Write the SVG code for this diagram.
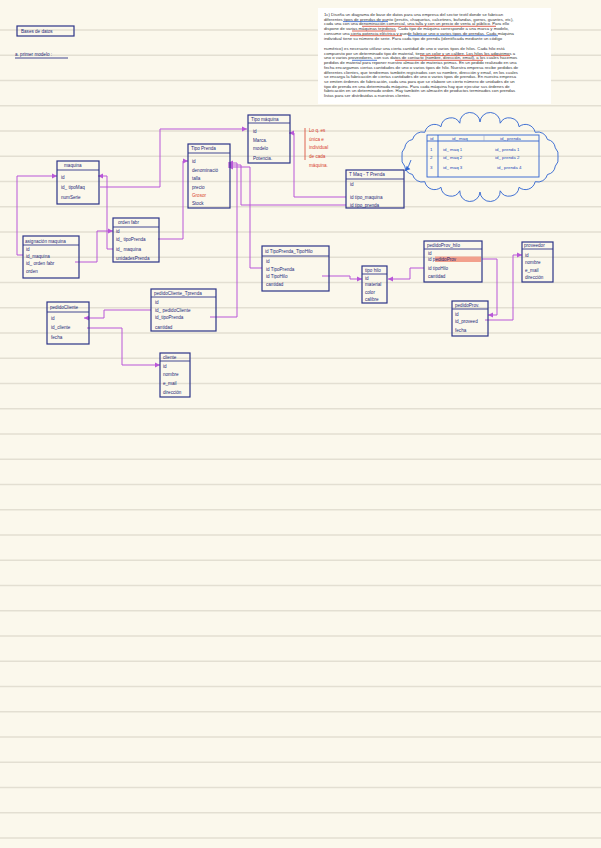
<svg xmlns="http://www.w3.org/2000/svg" width="601" height="848" viewBox="0 0 601 848">
<style>
.bg{fill:#fbf8ec}
.rule{stroke:#e3dfd2;stroke-width:1.6}
.box{fill:none;stroke:#2c3488;stroke-width:1.2}
.div{stroke:#2c3488;stroke-width:0.9}
.t{font-family:"Liberation Sans",Arial,sans-serif;font-size:4.6px;fill:#1f2a7a}
.h{font-family:"Liberation Sans",Arial,sans-serif;font-size:4.6px;fill:#1f2a7a}
.red{fill:#d8402c}
.p{font-family:"Liberation Sans",Arial,sans-serif;font-size:4.25px;fill:#333}
.c{fill:none;stroke:#b957d8;stroke-width:1}
.bl{fill:none;stroke:#2f63d0;stroke-width:0.9}
.bt{font-family:"Liberation Sans",Arial,sans-serif;font-size:4.4px;fill:#1d4bb8}
</style>
<defs>
<marker id="ar" markerWidth="6" markerHeight="6" refX="5" refY="3" orient="auto" markerUnits="userSpaceOnUse">
<path d="M0,0.5 L5,3 L0,5.5 z" fill="#b957d8"/>
</marker>
<marker id="ab" markerWidth="6" markerHeight="6" refX="5" refY="3" orient="auto" markerUnits="userSpaceOnUse">
<path d="M0,0.5 L5,3 L0,5.5 z" fill="#2f63d0"/>
</marker>
</defs>
<rect class="bg" x="0" y="0" width="601" height="848"/>
<g id="rules">
<line class="rule" x1="0" x2="601" y1="30" y2="30"/>
<line class="rule" x1="0" x2="601" y1="55.25" y2="55.25"/>
<line class="rule" x1="0" x2="601" y1="80.5" y2="80.5"/>
<line class="rule" x1="0" x2="601" y1="105.75" y2="105.75"/>
<line class="rule" x1="0" x2="601" y1="131" y2="131"/>
<line class="rule" x1="0" x2="601" y1="156.25" y2="156.25"/>
<line class="rule" x1="0" x2="601" y1="181.5" y2="181.5"/>
<line class="rule" x1="0" x2="601" y1="206.75" y2="206.75"/>
<line class="rule" x1="0" x2="601" y1="232" y2="232"/>
<line class="rule" x1="0" x2="601" y1="257.25" y2="257.25"/>
<line class="rule" x1="0" x2="601" y1="282.5" y2="282.5"/>
<line class="rule" x1="0" x2="601" y1="307.75" y2="307.75"/>
<line class="rule" x1="0" x2="601" y1="333" y2="333"/>
<line class="rule" x1="0" x2="601" y1="358.25" y2="358.25"/>
<line class="rule" x1="0" x2="601" y1="383.5" y2="383.5"/>
<line class="rule" x1="0" x2="601" y1="408.75" y2="408.75"/>
<line class="rule" x1="0" x2="601" y1="434" y2="434"/>
<line class="rule" x1="0" x2="601" y1="459.25" y2="459.25"/>
<line class="rule" x1="0" x2="601" y1="484.5" y2="484.5"/>
<line class="rule" x1="0" x2="601" y1="509.75" y2="509.75"/>
<line class="rule" x1="0" x2="601" y1="535" y2="535"/>
<line class="rule" x1="0" x2="601" y1="560.25" y2="560.25"/>
<line class="rule" x1="0" x2="601" y1="585.5" y2="585.5"/>
<line class="rule" x1="0" x2="601" y1="610.75" y2="610.75"/>
<line class="rule" x1="0" x2="601" y1="636" y2="636"/>
<line class="rule" x1="0" x2="601" y1="661.25" y2="661.25"/>
<line class="rule" x1="0" x2="601" y1="686.5" y2="686.5"/>
<line class="rule" x1="0" x2="601" y1="711.75" y2="711.75"/>
<line class="rule" x1="0" x2="601" y1="737" y2="737"/>
<line class="rule" x1="0" x2="601" y1="762.25" y2="762.25"/>
<line class="rule" x1="0" x2="601" y1="787.5" y2="787.5"/>
<line class="rule" x1="0" x2="601" y1="812.75" y2="812.75"/>
<line class="rule" x1="0" x2="601" y1="838" y2="838"/>
</g>
<g id="statement">
<rect x="318" y="8" width="233" height="96" fill="#ffffff"/>
<text class="p" x="324" y="16">1c) Diseña un diagrama de base de datos para una empresa del sector textil donde se fabrican</text>
<text class="p" x="324" y="20.7">diferentes tipos de prendas de punto (jerséis, chaquetas, calcetines, bufandas, gorros, guantes, etc),</text>
<text class="p" x="324" y="25.4">cada una con una denominación comercial, una talla y con un precio de venta al público. Para ello</text>
<text class="p" x="324" y="30.1">dispone de varias máquinas tejedoras. Cada tipo de máquina corresponde a una marca y modelo,</text>
<text class="p" x="324" y="34.8">consume una cierta potencia eléctrica y puede fabricar uno o varios tipos de prendas. Cada máquina</text>
<text class="p" x="324" y="39.5">individual tiene su número de serie. Para cada tipo de prenda (identificada mediante un código</text>
<text class="p" x="324" y="50">numérico) es necesario utilizar una cierta cantidad de uno o varios tipos de hilos. Cada hilo está</text>
<text class="p" x="324" y="54.7">compuesto por un determinado tipo de material, tiene un color y un calibre. Los hilos los adquirimos a</text>
<text class="p" x="324" y="59.4">uno o varios proveedores, con sus datos de contacto (nombre, dirección, email), a los cuales hacemos</text>
<text class="p" x="324" y="64.1">pedidos de material para reponer nuestro almacén de materias primas. En un pedido realizado en una</text>
<text class="p" x="324" y="68.8">fecha encargamos ciertas cantidades de uno o varios tipos de hilo. Nuestra empresa recibe pedidos de</text>
<text class="p" x="324" y="73.5">diferentes clientes, que tendremos también registrados con su nombre, dirección y email, en los cuales</text>
<text class="p" x="324" y="78.2">se encarga la fabricación de ciertas cantidades de uno o varios tipos de prendas. En nuestra empresa</text>
<text class="p" x="324" y="82.9">se emiten órdenes de fabricación, cada una para que se elabore un cierto número de unidades de un</text>
<text class="p" x="324" y="87.6">tipo de prenda en una determinada máquina. Para cada máquina hay que ejecutar sus órdenes de</text>
<text class="p" x="324" y="92.3">fabricación en un determinado orden. Hay también un almacén de productos terminados con prendas</text>
<text class="p" x="324" y="97">listas para ser distribuidas a nuestros clientes.</text>
<g stroke-width="0.8">
<line x1="343" y1="21.6" x2="388" y2="21.6" stroke="#2f63d0"/>
<line x1="362" y1="26.3" x2="496" y2="26.3" stroke="#d8402c"/>
<line x1="352" y1="31" x2="396" y2="31" stroke="#d8402c"/>
<line x1="350" y1="35.7" x2="402" y2="35.7" stroke="#d8402c"/>
<line x1="408" y1="35.7" x2="498" y2="35.7" stroke="#2f63d0"/>
<line x1="420" y1="55.6" x2="510" y2="55.6" stroke="#d8402c"/>
<line x1="352" y1="60.3" x2="377" y2="60.3" stroke="#2f63d0"/>
<line x1="395" y1="60.3" x2="483" y2="60.3" stroke="#d8402c"/>
</g>
</g>
<g id="title">
<rect class="box" x="17" y="26" width="57" height="10"/>
<text class="h" x="21" y="33">Bases de datos</text>
<text class="h" x="15" y="56">a. primer modelo :</text>
<line x1="15" y1="58" x2="68" y2="58" stroke="#2c3488" stroke-width="0.9"/>
</g>
<g id="connectors">
<path class="c" d="M100,187 H160 V129 H247" marker-end="url(#ar)"/>
<path class="c" d="M113,249 H107 V176 H98" marker-end="url(#ar)"/>
<path class="c" d="M75,262 H97 V231 H113" marker-end="url(#ar)"/>
<path class="c" d="M23,255 H17 V176 H57" marker-end="url(#ar)"/>
<path class="c" d="M158,239 H183 V161 H188" marker-end="url(#ar)"/>
<path class="c" d="M346,197 H294 V133 H289" marker-end="url(#ar)"/>
<path class="c" d="M346,205 H241 V165 H228" marker-end="url(#ar)"/>
<path class="c" d="M262,268 H250 V167 H228" marker-end="url(#ar)"/>
<path class="c" d="M210,317 H237 V163 H228" marker-end="url(#ar)"/>
<path class="c" d="M322,276 H350 V279 H362" marker-end="url(#ar)"/>
<path class="c" d="M424,268 H410 V279 H388" marker-end="url(#ar)"/>
<path class="c" d="M482,259 H497 V315 H488" marker-end="url(#ar)"/>
<path class="c" d="M485,320 H513 V255 H522" marker-end="url(#ar)"/>
<path class="c" d="M151,310 H104 V318 H84" marker-end="url(#ar)"/>
<path class="c" d="M87,328 H122 V365 H160" marker-end="url(#ar)"/>
<path class="bl" d="M411,160 Q409,167 405,171" marker-end="url(#ab)"/>
</g>
<g id="tipo-maquina">
<rect class="box" x="248" y="115" width="42" height="48"/>
<line class="div" x1="248" y1="123" x2="290" y2="123"/>
<text class="h" x="251" y="121">Tipo máquina</text>
<text class="t" x="253" y="133">id</text>
<text class="t" x="253" y="142">Marca.</text>
<text class="t" x="253" y="150">modelo</text>
<text class="t" x="253" y="160">Potencia.</text>
</g>
<g id="nota">
<line x1="305" y1="128" x2="305" y2="160" stroke="#d8402c" stroke-width="0.8"/>
<text class="t red" x="309" y="132">Lo q. es</text>
<text class="t red" x="309" y="141">única e</text>
<text class="t red" x="309" y="149">individual</text>
<text class="t red" x="309" y="158">de cada</text>
<text class="t red" x="309" y="167">máquina.</text>
</g>
<g id="maquina">
<rect class="box" x="57" y="161" width="42" height="43"/>
<line class="div" x1="57" y1="170" x2="99" y2="170"/>
<text class="h" x="64" y="167">maquina</text>
<text class="t" x="61" y="179">id</text>
<text class="t" x="61" y="189">id_ tipoMaq</text>
<text class="t" x="61" y="199">numSerie</text>
</g>
<g id="tipo-prenda">
<rect class="box" x="188" y="144" width="42" height="64"/>
<line class="div" x1="188" y1="153" x2="230" y2="153"/>
<text class="h" x="191" y="150">Tipo Prenda</text>
<text class="t" x="192" y="163">id</text>
<text class="t" x="192" y="172">denominació</text>
<text class="t" x="192" y="180">talla</text>
<text class="t" x="192" y="189">precio</text>
<text class="t red" x="192" y="197">Grosor</text>
<text class="t" x="192" y="205">Stock</text>
</g>
<g id="tmaq-tprenda">
<rect class="box" x="346" y="170" width="58" height="38"/>
<line class="div" x1="346" y1="179" x2="404" y2="179"/>
<text class="h" x="349" y="176">T Maq - T Prenda</text>
<text class="t" x="350" y="186">id</text>
<text class="t" x="350" y="199">id  tipo_maquina</text>
<text class="t" x="350" y="207">id  tipo_prenda</text>
</g>
<g id="cloud">
<path class="bl" d="M558,157 A10,10 0 0 1 555.3,166.1 A10,10 0 0 1 547.5,174.5 A10,10 0 0 1 535.2,181.7 A10,10 0 0 1 519,187.3 A10,10 0 0 1 500.2,190.8 A10,10 0 0 1 480,192 A10,10 0 0 1 459.8,190.8 A10,10 0 0 1 441,187.3 A10,10 0 0 1 424.8,181.7 A10,10 0 0 1 412.5,174.5 A10,10 0 0 1 404.7,166.1 A10,10 0 0 1 402,157 A10,10 0 0 1 404.7,147.9 A10,10 0 0 1 412.5,139.5 A10,10 0 0 1 424.8,132.3 A10,10 0 0 1 441,126.7 A10,10 0 0 1 459.8,123.2 A10,10 0 0 1 480,122 A10,10 0 0 1 500.2,123.2 A10,10 0 0 1 519,126.7 A10,10 0 0 1 535.2,132.3 A10,10 0 0 1 547.5,139.5 A10,10 0 0 1 555.3,147.9 A10,10 0 0 1 558,157 Z"/>
<rect class="bl" x="427" y="135" width="112" height="42"/>
<line class="bl" x1="427" y1="141" x2="539" y2="141"/>
<line class="bl" x1="438" y1="135" x2="438" y2="177"/>
<line x1="484" y1="135" x2="484" y2="141" stroke="#9aa6c8" stroke-width="0.6"/>
<text class="bt" x="430" y="140">id</text>
<text class="bt" x="452" y="140">id_ maq</text>
<text class="bt" x="500" y="140">id_ prenda</text>
<text class="bt" x="430" y="151">1</text>
<text class="bt" x="443" y="151">id_ maq 1</text>
<text class="bt" x="495" y="151">id_ prenda 1</text>
<text class="bt" x="430" y="159">2</text>
<text class="bt" x="443" y="159">id_ maq 2</text>
<text class="bt" x="495" y="159">id_ prenda 2</text>
<text class="bt" x="430" y="169">3</text>
<text class="bt" x="443" y="169">id_ maq 3</text>
<text class="bt" x="497" y="169">id_ prenda 4</text>
</g>
<g id="orden-fabr">
<rect class="box" x="113" y="218" width="46" height="44"/>
<line class="div" x1="113" y1="227" x2="159" y2="227"/>
<text class="h" x="118" y="224">orden fabr</text>
<text class="t" x="116" y="233">id</text>
<text class="t" x="116" y="241">id_ tipoPrenda</text>
<text class="t" x="116" y="251">id_ maquina</text>
<text class="t" x="116" y="260">unidadesPrenda</text>
</g>
<g id="asignacion-maquina">
<rect class="box" x="23" y="236" width="56" height="42"/>
<line class="div" x1="23" y1="245" x2="79" y2="245"/>
<text class="h" x="25" y="243">asignación maquina</text>
<text class="t" x="26" y="251">id</text>
<text class="t" x="26" y="258">id_maquina</text>
<text class="t" x="26" y="265">id_ orden fabr</text>
<text class="t" x="26" y="273">orden</text>
</g>
<g id="tipoprenda-tipohilo">
<rect class="box" x="262" y="246" width="67" height="45"/>
<line class="div" x1="262" y1="256" x2="329" y2="256"/>
<text class="h" x="265" y="253">id TipoPrenda_TipoHilo</text>
<text class="t" x="266" y="263">id</text>
<text class="t" x="266" y="271">id TipoPrenda</text>
<text class="t" x="266" y="278">id TipoHilo</text>
<text class="t" x="266" y="286">cantidad</text>
</g>
<g id="tipo-hilo">
<rect class="box" x="362" y="266" width="25" height="37"/>
<line class="div" x1="362" y1="274" x2="387" y2="274"/>
<text class="h" x="365" y="272">tipo hilo</text>
<text class="t" x="365" y="280">id</text>
<text class="t" x="365" y="285.5">material</text>
<text class="t" x="365" y="293.5">color</text>
<text class="t" x="365" y="300.5">calibre</text>
</g>
<g id="pedidoprov-hilo">
<rect class="box" x="424" y="241" width="58" height="41"/>
<line class="div" x1="424" y1="249" x2="482" y2="249"/>
<rect x="435" y="256.5" width="46" height="5.5" fill="#f2a08c"/>
<text class="h" x="427" y="247">pedidoProv_hilo</text>
<text class="t" x="428" y="255">id</text>
<text class="t" x="428" y="261">id   pedidoProv</text>
<text class="t" x="428" y="270">id    tipoHilo</text>
<text class="t" x="428" y="278">cantidad</text>
</g>
<g id="pedidoprov">
<rect class="box" x="452" y="301" width="36" height="35"/>
<line class="div" x1="452" y1="309" x2="488" y2="309"/>
<text class="h" x="455" y="307">pedidoProv.</text>
<text class="t" x="455" y="316">id</text>
<text class="t" x="455" y="323">id_proveed</text>
<text class="t" x="455" y="332">fecha</text>
</g>
<g id="proveedor">
<rect class="box" x="522" y="242" width="31" height="40"/>
<line class="div" x1="522" y1="249" x2="553" y2="249"/>
<text class="h" x="524" y="247">proveedor</text>
<text class="t" x="525" y="257">id</text>
<text class="t" x="525" y="264">nombre</text>
<text class="t" x="525" y="272">e_mail</text>
<text class="t" x="525" y="279">dirección</text>
</g>
<g id="pedidocliente">
<rect class="box" x="47" y="302" width="42" height="42"/>
<line class="div" x1="47" y1="312" x2="89" y2="312"/>
<text class="h" x="50" y="309">pedidoCliente</text>
<text class="t" x="51" y="320">id</text>
<text class="t" x="51" y="329">id_cliente</text>
<text class="t" x="51" y="339">fecha</text>
</g>
<g id="pedidocliente-tprenda">
<rect class="box" x="151" y="289" width="65" height="42"/>
<line class="div" x1="151" y1="297" x2="216" y2="297"/>
<text class="h" x="154" y="295">pedidoCliente_Tprenda</text>
<text class="t" x="155" y="304">id</text>
<text class="t" x="155" y="312">id_ pedidoCliente</text>
<text class="t" x="155" y="319">id_tipoPrenda</text>
<text class="t" x="155" y="329">cantidad</text>
</g>
<g id="cliente">
<rect class="box" x="160" y="353" width="30" height="44"/>
<line class="div" x1="160" y1="361" x2="190" y2="361"/>
<text class="h" x="163" y="359">cliente</text>
<text class="t" x="163" y="368">id</text>
<text class="t" x="163" y="376">nombre</text>
<text class="t" x="163" y="385">e_mail</text>
<text class="t" x="163" y="394">dirección</text>
</g>
</svg>
